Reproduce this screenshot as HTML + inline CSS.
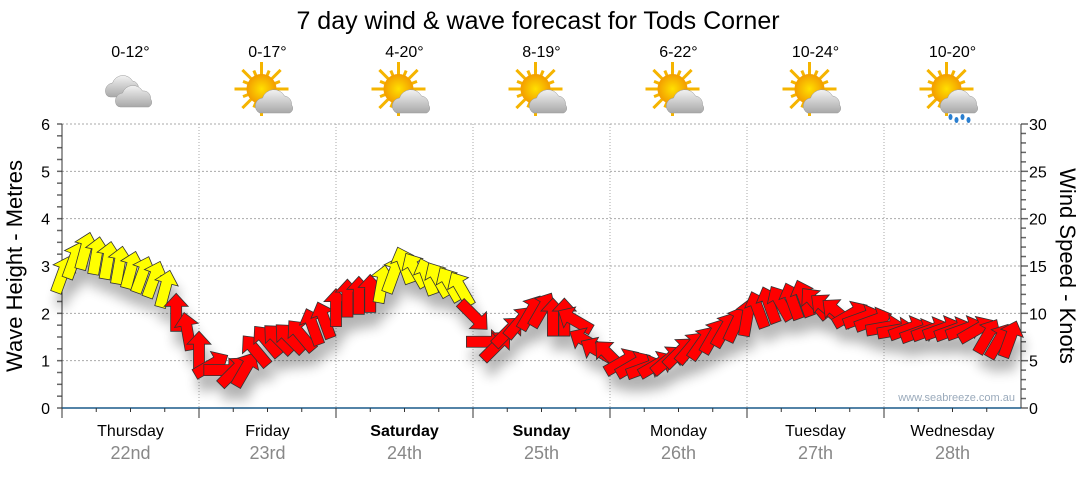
<!DOCTYPE html>
<html><head><meta charset="utf-8"><style>
body{margin:0;background:#fff;width:1080px;height:475px;overflow:hidden;font-family:"Liberation Sans",sans-serif}
</style></head><body>
<svg id="chart" width="1080" height="475" viewBox="0 0 1080 475" xmlns="http://www.w3.org/2000/svg">
<defs>
<filter id="sh" x="-50%" y="-50%" width="200%" height="200%"><feGaussianBlur stdDeviation="6"/></filter>
<radialGradient id="sun"><stop offset="0" stop-color="#ffe000"/><stop offset="1" stop-color="#f39c00"/></radialGradient>
<linearGradient id="cl" x1="0" y1="0" x2="0" y2="1"><stop offset="0" stop-color="#f2f2f2"/><stop offset="1" stop-color="#a8a8a8"/></linearGradient>
</defs>
<text x="538" y="29" font-size="25" text-anchor="middle" fill="#000">7 day wind &amp; wave forecast for Tods Corner</text>
<g id="grid"></g>
<g id="axes"></g>
<g id="icons"></g>
<g id="shadow" filter="url(#sh)" opacity="0.3"></g>
<g id="arrows"></g>
<text x="1015" y="401" font-size="11" fill="#9aaabb" text-anchor="end">www.seabreeze.com.au</text>
<text transform="translate(22,266) rotate(-90)" font-size="22" text-anchor="middle">Wave Height - Metres</text>
<text transform="translate(1060,266) rotate(90)" font-size="22" text-anchor="middle">Wind Speed - Knots</text>
</svg>
<script>
const days=["Thursday","Friday","Saturday","Sunday","Monday","Tuesday","Wednesday"];
const dates=["22nd","23rd","24th","25th","26th","27th","28th"];
const temps=["0-12°","0-17°","4-20°","8-19°","6-22°","10-24°","10-20°"];
const weather=["cloudy","partly","partly","partly","partly","partly","showers"];
const waveTicks=[0,1,2,3,4,5,6];
const windTicks=[0,5,10,15,20,25,30];
// wind speed (knots) every 2 hours
const windSpeed=[14,15.5,16.5,16,15.5,15,14.5,14,13.5,12.5,10,8,
6,4.5,4,3.8,4,6,7,7.2,7.3,7.6,8.5,9.2,
10.5,11.5,11.8,12,13,14,15,14.5,13.8,13.5,13,12.5,
9.8,7,6.5,8,9,10,10.3,9.5,9.5,9.2,7,6,
5.5,4.8,4.5,4.2,4.5,5,5.8,6.3,6.8,7.5,8.2,8.8,
9.5,10.3,10.8,11,11.2,11.5,11,10.5,10,9.8,9.5,9.2,
8.5,8.2,8.3,8,8.2,8.3,8.2,8.3,8.2,7.5,7,7.2];
// arrow direction (degrees, 0 = pointing up)
const windDir=[20,20,15,10,10,10,15,20,20,15,0,-10,
0,60,90,45,30,-40,-40,-45,-45,-40,-20,-20,
0,0,0,0,10,20,-20,-30,-20,-30,-30,-30,
135,90,45,45,40,30,30,0,0,-60,-60,-60,
-45,60,60,70,60,50,45,40,35,30,30,25,
10,-20,-20,-30,-20,-20,-40,-50,-50,60,70,70,
80,80,70,70,70,70,70,70,60,30,30,20];

const X0=62,X1=1021,Y0=408,Y1=124,DW=(X1-X0)/7;
const xH=h=>X0+h*DW/24;
const yM=m=>Y0-(m/6)*(Y0-Y1);
const yK=k=>Y0-(k/30)*(Y0-Y1);
const NS="http://www.w3.org/2000/svg";
function mk(tag,attrs,parent,txt){const e=document.createElementNS(NS,tag);for(const a in attrs)e.setAttribute(a,attrs[a]);if(txt!==undefined)e.textContent=txt;parent.appendChild(e);return e;}
const grid=document.getElementById('grid'),axes=document.getElementById('axes'),icons=document.getElementById('icons');
waveTicks.forEach(t=>{
  if(t>0){const l=mk('line',{x1:X0,x2:X1,y1:yM(t),y2:yM(t),stroke:'#aaa','stroke-dasharray':'2,2'},grid);
  
  }
  const tx=mk('text',{x:50,y:yM(t)+6,'font-size':16,'text-anchor':'end'},axes,t);
  
  
});
for(let i=0;i<=24;i++){const y=yM(i/4);mk('line',{x1:X0-5,x2:X0,y1:y,y2:y,stroke:'#666','stroke-width':1.5},axes);}
windTicks.forEach(t=>{
  const tx=mk('text',{x:1029,y:yK(t)+6,'font-size':16},axes,t);
  
  
});
for(let i=0;i<=30;i++){const y=yK(i);mk('line',{x1:X1,x2:X1+(i%5?5:7),y1:y,y2:y,stroke:'#666','stroke-width':1.5},axes);}
mk('line',{x1:X0,x2:X0,y1:Y1,y2:Y0,stroke:'#333'},axes);
mk('line',{x1:X1,x2:X1,y1:Y1,y2:Y0,stroke:'#333'},axes);
mk('line',{x1:X0,x2:X1,y1:Y0,y2:Y0,stroke:'#1a5a8a','stroke-width':1.5},axes);
for(let d=0;d<7;d++){
  const xs=X0+d*DW;
  if(d>0){const g=mk('line',{x1:xs,x2:xs,y1:Y1,y2:Y0,stroke:'#aaa','stroke-dasharray':'1,2'},grid);
  
  }
  for(let q=0;q<4;q++)mk('line',{x1:xs+q*DW/4,x2:xs+q*DW/4,y1:Y0,y2:Y0+(q?4:10),stroke:'#333'},axes);
  const cx=xs+DW/2;
  const bold=(d==2||d==3)?'bold':'normal';
  const dl=mk('text',{x:cx,y:436,'font-size':16,'text-anchor':'middle','font-weight':bold},axes,days[d]);
  
  
  const dt=mk('text',{x:cx,y:459,'font-size':18,'text-anchor':'middle',fill:'#888'},axes,dates[d]);
  
  
  const tp=mk('text',{x:cx,y:57,'font-size':16,'text-anchor':'middle'},icons,temps[d]);
  
  
  const g=mk('g',{transform:`translate(${cx},95)`},icons);
  
  
  if(weather[d]=='cloudy'){
    mk('path',{d:'M-24,0 a8,8 0 0,1 6,-12 a11,11 0 0,1 20,-2 a7,7 0 0,1 6,8 a5,5 0 0,1 -2,8 h-26 a5,5 0 0,1 -4,-2z',fill:'url(#cl)',stroke:'#999','stroke-width':.5},g);
    mk('path',{d:'M-14,10 a8,8 0 0,1 6,-12 a11,11 0 0,1 20,-2 a7,7 0 0,1 8,8 a5,5 0 0,1 -2,8 h-28 a5,5 0 0,1 -4,-2z',fill:'url(#cl)',stroke:'#999','stroke-width':.5},g);
  } else {
    for(let r=0;r<16;r++){const a=r*Math.PI/8;const L=r%2?20:27;
      mk('line',{x1:-6+Math.cos(a)*12,y1:-6+Math.sin(a)*12,x2:-6+Math.cos(a)*L,y2:-6+Math.sin(a)*L,stroke:'#f5b400','stroke-width':3},g);}
    mk('circle',{cx:-6,cy:-6,r:15,fill:'url(#sun)'},g);
    mk('path',{d:'M-8,18 a8,8 0 0,1 3,-15 a12,12 0 0,1 22,-2 a8,8 0 0,1 7,9 a5,5 0 0,1 -2,8z',fill:'url(#cl)',stroke:'#999','stroke-width':.5},g);
    if(weather[d]=='showers'){for(let r=0;r<4;r++)mk('ellipse',{cx:-2+r*6,cy:22+(r%2)*3,rx:2,ry:3,fill:'#2a7fd0'},g);}
  }
}
const arrowPts='0,-20 12,-7 5.5,-7 5.5,18 -5.5,18 -5.5,-7 -12,-7';
const ag=document.getElementById('arrows'),sg=document.getElementById('shadow');
windSpeed.forEach((k,i)=>{
  const x=xH(i*2),y=yK(k),a=windDir[i];
  mk('polygon',{points:arrowPts,transform:`translate(${x+4},${y+14}) rotate(${a})`,fill:'#000'},sg);
  const p=mk('polygon',{points:arrowPts,transform:`translate(${x},${y}) rotate(${a})`,fill:k>=12.5?'#ffff00':'#ff0000',stroke:'#333','stroke-width':0.8},ag);
  
  
});
</script>
</body></html>
